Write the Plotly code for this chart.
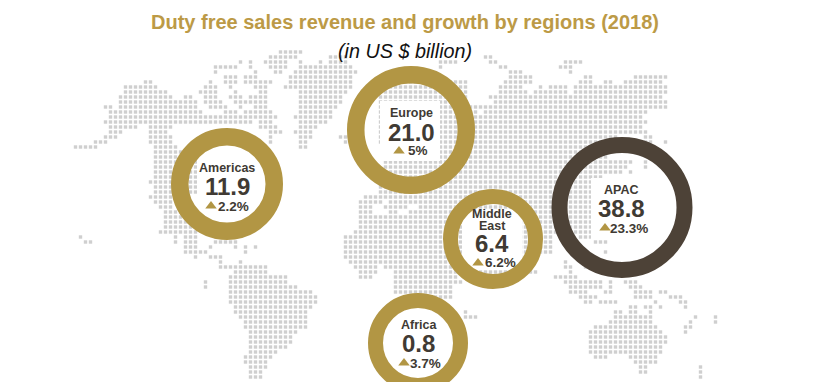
import plotly.graph_objects as go

# ---- chart data ----
regions = ["Americas", "Europe", "APAC", "Middle East", "Africa"]
region_labels = [["Americas"], ["Europe"], ["APAC"], ["Middle", "East"], ["Africa"]]
revenue = ["11.9", "21.0", "38.8", "6.4", "0.8"]
growth = ["2.2%", "5%", "23.3%", "6.2%", "3.7%"]

# ---- world map backdrop: {grid row: [(first column, last column), ...]} ----
north_lands = {
    0: [(56, 60)], 1: [(54, 59), (66, 69), (97, 98)],
    2: [(48, 48), (50, 50), (53, 57), (60, 60), (64, 64), (66, 69), (88, 91), (98, 99), (113, 116)],
    3: [(43, 47), (50, 50), (54, 57), (60, 70), (88, 88), (100, 101), (112, 114)],
    4: [(43, 43), (51, 51), (55, 56), (59, 71), (102, 104), (114, 114)],
    5: [(45, 47), (49, 51), (58, 70), (102, 106), (117, 118), (127, 133)],
    6: [(29, 30), (42, 42), (45, 47), (49, 54), (58, 70), (76, 93), (101, 106), (116, 118), (121, 122), (125, 132)],
    7: [(25, 31), (41, 43), (46, 46), (51, 53), (57, 70), (76, 93), (100, 104), (108, 108), (110, 113), (115, 133)],
    8: [(25, 33), (40, 43), (47, 47), (52, 53), (60, 69), (76, 93), (100, 105), (107, 113), (115, 133)],
    9: [(24, 34), (37, 38), (41, 43), (46, 48), (50, 53), (60, 68), (76, 93), (98, 98), (99, 132)],
    10: [(24, 39), (41, 44), (47, 49), (50, 53), (60, 68), (76, 93), (99, 133)],
    11: [(21, 22), (24, 39), (42, 45), (48, 48), (51, 53), (60, 67), (76, 133)],
    12: [(22, 40), (45, 47), (49, 54), (60, 66), (76, 95), (97, 129)],
    13: [(22, 54), (55, 55), (59, 66), (76, 128)],
    14: [(21, 50), (52, 54), (60, 65), (76, 129)],
    15: [(22, 27), (30, 34), (52, 55), (60, 63), (76, 128)],
    16: [(22, 24), (30, 33), (54, 56), (59, 62), (76, 129)],
    17: [(21, 23), (30, 34), (54, 54), (60, 62), (68, 69), (76, 123), (129, 130)],
    18: [(19, 21), (30, 34), (54, 54), (60, 61), (69, 69), (76, 122), (129, 130), (133, 133)],
    19: [(15, 19), (31, 35), (60, 61), (77, 121), (129, 130)],
    20: [(31, 37), (77, 120), (129, 129)],
    21: [(31, 39), (77, 121)],
    22: [(31, 42), (77, 126), (129, 129)],
    23: [(31, 42), (77, 125), (129, 129)],
    24: [(31, 43), (76, 124), (126, 126)],
    25: [(31, 43), (76, 120)],
    26: [(30, 44), (76, 119)],
    27: [(31, 44), (76, 119)],
    28: [(31, 43), (76, 119)],
}
south_lands = {
    29: [(30, 34), (73, 119)], 30: [(31, 34), (72, 76), (78, 119)],
    31: [(32, 34), (72, 74), (77, 80), (81, 81), (84, 119)], 32: [(33, 36), (72, 74), (78, 79), (82, 119)],
    33: [(33, 37), (72, 119)], 34: [(33, 39), (72, 118)], 35: [(33, 40), (72, 119)],
    36: [(32, 39), (71, 120)], 37: [(16, 16), (35, 35), (37, 39), (43, 45), (69, 110), (116, 120)],
    38: [(17, 18), (35, 35), (37, 39), (43, 47), (69, 110), (119, 121)],
    39: [(37, 39), (42, 42), (47, 47), (49, 49), (51, 51), (69, 110)],
    40: [(37, 41), (49, 49), (69, 110), (121, 121)], 41: [(39, 39), (42, 44), (69, 106)],
    42: [(44, 44), (48, 48), (70, 106), (113, 113)], 43: [(44, 53), (71, 75), (77, 106), (113, 114), (117, 118)],
    44: [(47, 53), (72, 75), (79, 107), (114, 114)], 45: [(46, 57), (72, 74), (79, 91), (111, 115)],
    46: [(41, 41), (46, 57), (79, 92), (113, 116), (117, 120), (122, 122), (125, 127)],
    47: [(41, 41), (46, 59), (79, 90), (114, 116), (117, 120), (122, 122), (126, 128)],
    48: [(46, 62), (79, 90), (114, 117), (121, 122), (127, 130), (132, 133)],
    49: [(46, 63), (87, 90), (116, 119), (127, 130), (134, 136)],
    50: [(46, 63), (117, 118), (120, 123), (131, 131), (136, 137)],
    51: [(47, 62), (126, 127), (129, 130), (132, 132), (137, 137)],
    52: [(47, 61), (93, 93), (123, 124), (126, 127), (130, 130)],
    53: [(48, 61), (93, 95), (123, 130), (139, 139), (143, 143)],
    54: [(49, 61), (122, 130), (138, 138), (143, 143)], 55: [(49, 61), (119, 131), (137, 138)],
    56: [(50, 59), (118, 132), (137, 137)], 57: [(50, 58), (118, 133)], 58: [(50, 58), (118, 133)],
    59: [(50, 57), (118, 132)], 60: [(50, 55), (118, 132)], 61: [(49, 54), (119, 121), (126, 131)],
    62: [(49, 53), (127, 131)], 63: [(50, 53), (128, 129), (140, 140)],
    64: [(50, 52), (128, 129), (140, 140)], 65: [(50, 52), (140, 140)],
}

# ---- layout of the picture, in page pixels ----
ring_x = [227, 411, 622, 493, 418]
ring_y = [184, 130, 207.5, 239, 343]
ring_outer = [112, 128, 141, 100, 100]
ring_band = [17.5, 17.5, 16, 15, 15]
ring_color = ["#B29644", "#B29644", "#4D4237", "#B29644", "#B29644"]
clear_x = [227, 410, 622, 492, 418]
clear_y = [186, 131, 209, 240, 343]
clear_size = [60, 60, 62, 60, 72]
label_x = [227, 411, 621, 492, 419]
label_y = [[168], [113], [190], [214, 226], [325]]
value_x = [227, 411, 621, 492, 418]
value_y = [186, 132, 208, 243, 343]
growth_x = [233, 418, 629, 500, 425]
growth_y = [206, 150, 228, 262, 363]
tri_x = [211, 399, 605, 478, 404]
tri_y = [206, 151, 228, 263, 363]

GOLD = "#B29644"
INK = "#403A33"

dot_x, dot_y = [], []
for lands in (north_lands, south_lands):
    for row, spans in lands.items():
        for first, last in spans:
            for col in range(first, last + 1):
                dot_x.append(5 * col + 0.5)
                dot_y.append(52 + 5 * row)

fig = go.Figure()
fig.add_trace(go.Scatter(x=dot_x, y=dot_y, mode="markers", hoverinfo="skip",
                         marker=dict(symbol="square", size=3.4, color="#CFCFCF", opacity=1, line_width=0)))
fig.add_trace(go.Scatter(x=clear_x, y=clear_y, mode="markers", hoverinfo="skip",
                         marker=dict(symbol="square", size=clear_size, color="white", opacity=1, line_width=0)))
fig.add_trace(go.Scatter(x=ring_x, y=ring_y, mode="markers", text=regions, cliponaxis=False,
                         marker=dict(symbol="circle", color="rgba(0,0,0,0)", opacity=1,
                                     size=[o - b for o, b in zip(ring_outer, ring_band)],
                                     line=dict(color=ring_color, width=ring_band))))
fig.add_trace(go.Scatter(x=tri_x, y=tri_y, mode="markers", hoverinfo="skip",
                         marker=dict(symbol="triangle-up", size=10, color=GOLD, opacity=1, line_width=0)))

ann = []
for i in range(len(regions)):
    for line, ly in zip(region_labels[i], label_y[i]):
        ann.append(dict(x=label_x[i], y=ly, text=f"<b>{line}</b>", showarrow=False,
                        font=dict(size=12.5, color=INK), xanchor="center", yanchor="middle"))
    ann.append(dict(x=value_x[i], y=value_y[i], text=f"<b>{revenue[i]}</b>", showarrow=False,
                    font=dict(size=24, color=INK), xanchor="center", yanchor="middle"))
    ann.append(dict(x=growth_x[i], y=growth_y[i], text=f"<b>{growth[i]}</b>", showarrow=False,
                    font=dict(size=13.5, color=INK), xanchor="center", yanchor="middle"))
ann.append(dict(x=404.5, y=22, text="<b>Duty free sales revenue and growth by regions (2018)</b>", showarrow=False,
                font=dict(size=20, color="#BC9A46"), xanchor="center", yanchor="middle"))
ann.append(dict(x=405, y=51, text="<i>(in US $ billion)</i>", showarrow=False,
                font=dict(size=19.8, color="#111111"), xanchor="center", yanchor="middle"))

fig.update_layout(
    width=815, height=382, margin=dict(l=0, r=0, t=0, b=0), showlegend=False,
    paper_bgcolor="white", plot_bgcolor="white",
    font=dict(family="Liberation Sans, Arial, sans-serif"),
    xaxis=dict(range=[0, 815], visible=False, fixedrange=True),
    yaxis=dict(range=[382, 0], visible=False, fixedrange=True),
    annotations=[{**a, "xref": "x", "yref": "y"} for a in ann],
)
fig.write_html("out.html", config={"displayModeBar": False},
               post_script="document.body.style.margin='0';document.documentElement.style.overflow='hidden';")
